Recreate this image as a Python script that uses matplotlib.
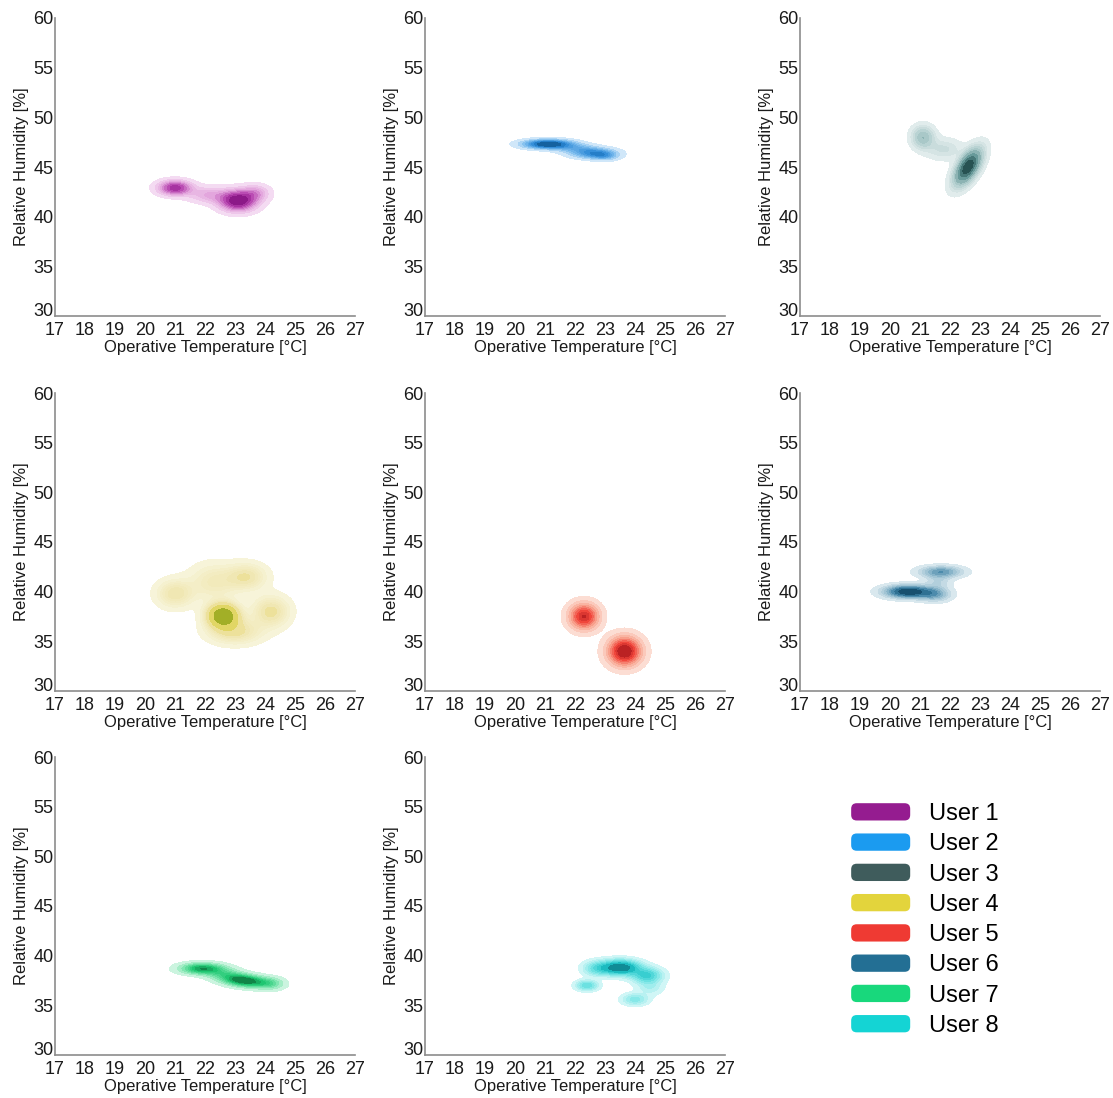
import numpy as np
import matplotlib
matplotlib.use("Agg")
import matplotlib.pyplot as plt
import matplotlib.transforms as mtransforms
from matplotlib.colors import LinearSegmentedColormap
from matplotlib.patches import FancyBboxPatch, Patch
from matplotlib.legend_handler import HandlerPatch

plt.rcParams['font.family'] = ['Liberation Sans', 'DejaVu Sans']

# blob centres: (temp, rh, spread_t, spread_rh, corr, weight)
user1 = [(21.0, 42.9, 0.38, 0.50, 0.0, 0.26), (22.1, 42.2, 0.45, 0.55, 0.0, 0.14),
         (23.1, 41.6, 0.42, 0.70, 0.0, 0.50), (23.7, 42.4, 0.32, 0.55, 0.0, 0.10)]
user2 = [(21.1, 47.3, 0.55, 0.30, 0.0, 0.48), (22.0, 46.9, 0.45, 0.30, 0.0, 0.12),
         (22.6, 46.4, 0.50, 0.35, 0.0, 0.32), (23.0, 46.1, 0.30, 0.30, 0.0, 0.08)]
user3 = [(21.1, 48.0, 0.25, 0.75, 0.0, 0.18), (21.8, 46.8, 0.40, 0.70, 0.0, 0.12),
         (22.6, 45.0, 0.30, 1.20, 0.6, 0.70)]
user4 = [(22.6, 37.6, 0.35, 0.80, 0.0, 0.28), (21.0, 39.8, 0.42, 0.95, 0.0, 0.12),
         (22.3, 41.0, 0.55, 1.25, 0.0, 0.16), (23.4, 41.5, 0.45, 0.90, 0.0, 0.12),
         (24.2, 38.0, 0.42, 1.05, 0.0, 0.15), (23.0, 36.0, 0.60, 0.85, 0.0, 0.17)]
user5 = [(22.3, 37.5, 0.32, 0.85, 0.0, 0.40), (23.65, 34.0, 0.36, 0.95, 0.0, 0.60)]
user6 = [(20.6, 40.0, 0.52, 0.42, 0.0, 0.52), (21.7, 42.0, 0.48, 0.38, 0.0, 0.24),
         (21.5, 39.7, 0.35, 0.45, 0.0, 0.16), (21.6, 41.0, 0.30, 0.50, 0.0, 0.08)]
user7 = [(21.9, 38.7, 0.50, 0.38, 0.0, 0.33), (22.6, 38.2, 0.40, 0.40, 0.0, 0.10),
         (23.3, 37.5, 0.52, 0.45, -0.3, 0.47), (24.2, 37.2, 0.32, 0.42, 0.0, 0.10)]
user8 = [(23.5, 38.8, 0.45, 0.50, 0.0, 0.45), (24.4, 38.0, 0.35, 0.50, 0.0, 0.20),
         (22.4, 37.0, 0.25, 0.35, 0.0, 0.08), (24.0, 35.6, 0.30, 0.40, 0.0, 0.08),
         (22.7, 38.7, 0.30, 0.50, 0.0, 0.10), (24.5, 36.8, 0.30, 0.50, 0.0, 0.06)]

users = ["User 1", "User 2", "User 3", "User 4", "User 5", "User 6", "User 7", "User 8"]
blobs = [user1, user2, user3, user4, user5, user6, user7, user8]
legend_colors = ["#951c90", "#1b9bf0", "#3f5c5c", "#e3d43c", "#ef3a33", "#236f94", "#18d87c", "#14d4d4"]
ramps = [
    ["#f8e6f6", "#e3a6dd", "#b440ad", "#7c0a7a"],
    ["#e4f1fc", "#7cbcee", "#2b88d6", "#0b4f86"],
    ["#e8f0f0", "#a7c7c7", "#5a8f8f", "#173f3f"],
    ["#f8f6de", "#f0e6b0", "#e6d870", "#c8cc30", "#5d7a18"],
    ["#fde6de", "#f8a590", "#f0453a", "#a8151a"],
    ["#e4eff3", "#9cc1d2", "#3a7fa3", "#0a3f5c"],
    ["#e0f8eb", "#7fe6b0", "#1fc872", "#0b6a38"],
    ["#ddf8f8", "#7ae6e6", "#1ec4c8", "#0a7480"],
]

xticks = np.arange(17, 28, 1)
yticks = np.arange(30, 61, 5)


def density(blob_list, X, Y):
    Z = np.zeros_like(X)
    for cx, cy, sx, sy, r, w in blob_list:
        dx = (X - cx) / sx
        dy = (Y - cy) / sy
        q = (dx ** 2 - 2 * r * dx * dy + dy ** 2) / (1 - r ** 2)
        Z += w * np.exp(-q / 2) / (2 * np.pi * sx * sy * np.sqrt(1 - r ** 2))
    return Z


def iso_levels(Z, props):
    vals = np.sort(Z.ravel())[::-1]
    cum = np.cumsum(vals)
    cum /= cum[-1]
    idx = np.searchsorted(cum, 1 - np.asarray(props))
    return np.sort(vals[np.clip(idx, 0, vals.size - 1)])


W, H = 1113, 1098
fig = plt.figure(figsize=(W / 100, H / 100), dpi=100)
col_left = [55, 425, 800]
row_top = [18, 393, 757]
aw, ah = 300, 298

xs = np.linspace(17, 27, 400)
ys = np.linspace(30, 60, 600)
X, Y = np.meshgrid(xs, ys)

for i, (name, bl) in enumerate(zip(users, blobs)):
    r, c = divmod(i, 3)
    ax = fig.add_axes([col_left[c] / W, 1 - (row_top[r] + ah) / H, aw / W, ah / H])
    Z = density(bl, X, Y)
    lev = iso_levels(Z, np.linspace(0.05, 1, 10))
    lev = np.append(lev[:-1], Z.max() * 1.01)
    cmap = LinearSegmentedColormap.from_list(name, ramps[i])
    ax.contourf(X, Y, Z, levels=lev, cmap=cmap)
    ax.set_xlim(17, 27)
    ax.set_ylim(30, 60)
    ax.set_xticks(xticks)
    ax.set_yticks(yticks)
    for s in ["top", "right"]:
        ax.spines[s].set_visible(False)
    for s in ["left", "bottom"]:
        ax.spines[s].set_color("#8c8c8c")
        ax.spines[s].set_linewidth(1.2)
    ax.tick_params(length=0, labelsize=13, colors="#1a1a1a")
    ax.tick_params(axis="x", pad=4)
    ax.tick_params(axis="y", pad=1)
    # lift the bottom y label clear of the first x label
    lab30 = ax.get_yticklabels()[0]
    lab30.set_transform(lab30.get_transform() +
                        mtransforms.ScaledTranslation(0, 5 / 72, fig.dpi_scale_trans))
    ax.set_xlabel("Operative Temperature [°C]", fontsize=12, color="#1a1a1a", labelpad=1)
    ax.set_ylabel("Relative Humidity [%]", fontsize=12, color="#1a1a1a", labelpad=3)


def rounded(legend, orig_handle, xdescent, ydescent, width, height, fontsize):
    return FancyBboxPatch((-xdescent, -ydescent), width, height,
                          boxstyle="round,pad=0,rounding_size=4")


handles = [Patch(facecolor=col, edgecolor="none") for col in legend_colors]
fig.legend(handles, users, loc="center", bbox_to_anchor=(925 / W, 1 - 920 / H),
           frameon=False, fontsize=17, handlelength=2.5, handleheight=0.75,
           labelspacing=0.35, handletextpad=0.8,
           handler_map={Patch: HandlerPatch(patch_func=rounded)})

fig.savefig("out.png", dpi=100)
